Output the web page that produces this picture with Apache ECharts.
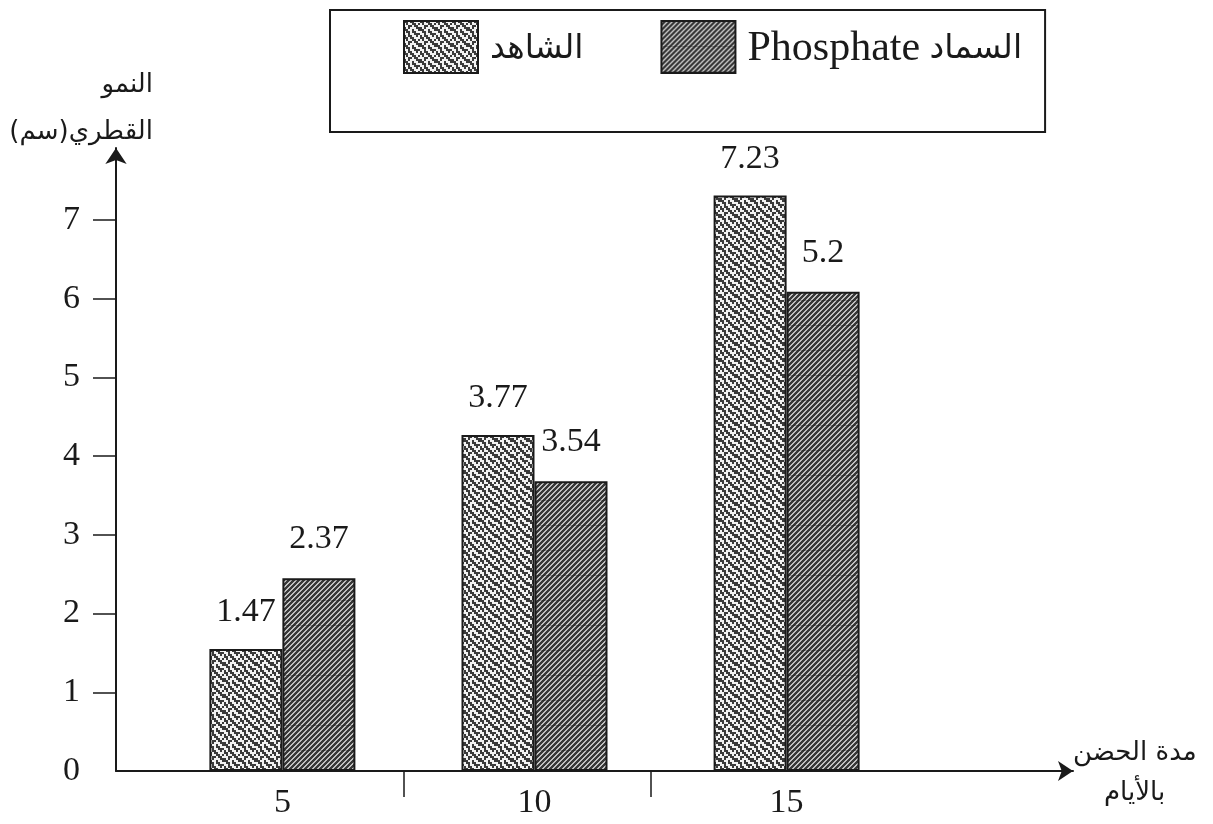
<!DOCTYPE html>
<html>
<head>
<meta charset="utf-8">
<script src="https://cdn.jsdelivr.net/npm/echarts@6/dist/echarts.min.js"></script>
<style>
html,body{margin:0;padding:0;background:#fff;}
#chart{width:1213px;height:824px;}
</style>
</head>
<body>
<div id="chart"></div>
<script>
// ---- data ----
const days = [5, 10, 15];                       // x categories (incubation days)
const controlHeights = [1.55, 4.27, 7.31];      // bar heights as drawn (الشاهد)
const phosphateHeights = [2.45, 3.68, 6.09];    // bar heights as drawn (السماد Phosphate)
const controlLabels = ['1.47', '3.77', '7.23']; // printed value labels
const phosphateLabels = ['2.37', '3.54', '5.2'];
const yTickValues = [1, 2, 3, 4, 5, 6, 7];
const yLabelValues = [0, 1, 2, 3, 4, 5, 6, 7];
const xSeparatorTicks = [7.4, 12.3];
const seriesNames = ['الشاهد', 'Phosphate السماد'];
const yTitleLines = ['النمو', 'القطري(سم)\u200F'];
const xTitleLines = ['مدة الحضن', 'بالأيام'];

// ---- textures ----
function makeStipple() {
  const bits = [
    '11011000',
    '01001101',
    '00110110',
    '10100011',
    '11001001',
    '01101100',
    '00100111',
    '10110010'
  ];
  const s = 2;
  const c = document.createElement('canvas');
  c.width = 8 * s; c.height = 8 * s;
  const g = c.getContext('2d');
  g.fillStyle = '#f2f2f2'; g.fillRect(0, 0, 8 * s, 8 * s);
  g.fillStyle = '#3a3a3a';
  for (let y = 0; y < 8; y++) for (let x = 0; x < 8; x++) if (bits[y][x] === '1') g.fillRect(x * s, y * s, s, s);
  return c;
}
function makeHatch() {
  const w = 5, h = 25;
  const c = document.createElement('canvas');
  c.width = w; c.height = h;
  const g = c.getContext('2d');
  for (let y = 0; y < h; y++) for (let x = 0; x < w; x++) {
    g.fillStyle = ((x + y) % 5 < 2) ? '#c0c0c0' : '#383838';
    g.fillRect(x, y, 1, 1);
  }
  g.fillStyle = 'rgba(20,20,20,0.3)';
  g.fillRect(0, 0, w, 1);
  return c;
}
const stipple = { image: makeStipple(), repeat: 'repeat' };
const hatch = { image: makeHatch(), repeat: 'repeat' };

const serif = "'Liberation Serif', 'DejaVu Serif', 'DejaVu Sans', serif";
const arabic = "'DejaVu Sans', sans-serif";
const ink = '#1a1a1a';

const chart = echarts.init(document.getElementById('chart'), null, { renderer: 'canvas' });
chart.setOption({
  animation: false,
  backgroundColor: '#ffffff',
  grid: { left: 116, right: 140, top: 148, bottom: 53, containLabel: false },
  legend: {
    left: 330, top: 10,
    orient: 'horizontal',
    data: seriesNames,
    icon: 'rect',
    itemWidth: 74, itemHeight: 52,
    itemGap: 77,
    padding: [10, 23, 58, 73],
    borderColor: ink, borderWidth: 2,
    formatter: function (name) {
      if (name === seriesNames[1]) return '{en|Phosphate} {ar|السماد}';
      return '{ar|' + name + '}';
    },
    textStyle: {
      fontFamily: serif, fontSize: 38, color: ink, padding: [4, 0, 0, 7],
      rich: {
        en: { fontFamily: serif, fontSize: 42, color: ink },
        ar: { fontFamily: arabic, fontSize: 33, color: ink }
      }
    }
  },
  xAxis: {
    type: 'value',
    min: 1.7, max: 20.68,
    splitLine: { show: false },
    axisLine: { show: true, lineStyle: { color: ink, width: 2 }, symbol: ['none', 'arrow'], symbolSize: [15, 15] },
    axisTick: { show: true, length: 26, inside: false, customValues: xSeparatorTicks, lineStyle: { color: ink, width: 1.5 } },
    axisLabel: { customValues: days, fontFamily: serif, fontSize: 34, color: ink, margin: 15 }
  },
  yAxis: {
    type: 'value',
    min: 0, max: 7.915,
    splitLine: { show: false },
    axisLine: { show: true, lineStyle: { color: ink, width: 2 }, symbol: ['none', 'arrow'], symbolSize: [16, 16] },
    axisTick: { show: true, length: 23, inside: false, customValues: yTickValues, lineStyle: { color: ink, width: 1.5 } },
    axisLabel: { customValues: yLabelValues, fontFamily: serif, fontSize: 34, color: ink, margin: 36 }
  },
  series: [
    {
      name: seriesNames[0], type: 'bar',
      data: days.map((d, i) => [d, controlHeights[i]]),
      barWidth: 73, barGap: '0%',
      itemStyle: { color: stipple, borderColor: ink, borderWidth: 2 },
      label: { show: true, position: 'top', distance: 20, fontFamily: serif, fontSize: 34, color: ink,
               formatter: p => controlLabels[p.dataIndex] }
    },
    {
      name: seriesNames[1], type: 'bar',
      data: days.map((d, i) => [d, phosphateHeights[i]]),
      barWidth: 73, barGap: '0%',
      itemStyle: { color: hatch, borderColor: ink, borderWidth: 2 },
      label: { show: true, position: 'top', distance: 22, fontFamily: serif, fontSize: 34, color: ink,
               formatter: p => phosphateLabels[p.dataIndex] }
    }
  ],
  graphic: [
    { type: 'text', right: 1213 - 153, top: 72, style: { text: yTitleLines[0], font: '26px ' + arabic, fill: ink, textAlign: 'right' } },
    { type: 'text', right: 1213 - 153, top: 119, style: { text: yTitleLines[1], font: '26px ' + arabic, fill: ink, textAlign: 'right' } },
    { type: 'text', left: 1073, top: 740, style: { text: xTitleLines[0], font: '26px ' + arabic, fill: ink } },
    { type: 'text', left: 1104, top: 780, style: { text: xTitleLines[1], font: '26px ' + arabic, fill: ink } }
  ]
});
</script>
</body>
</html>
